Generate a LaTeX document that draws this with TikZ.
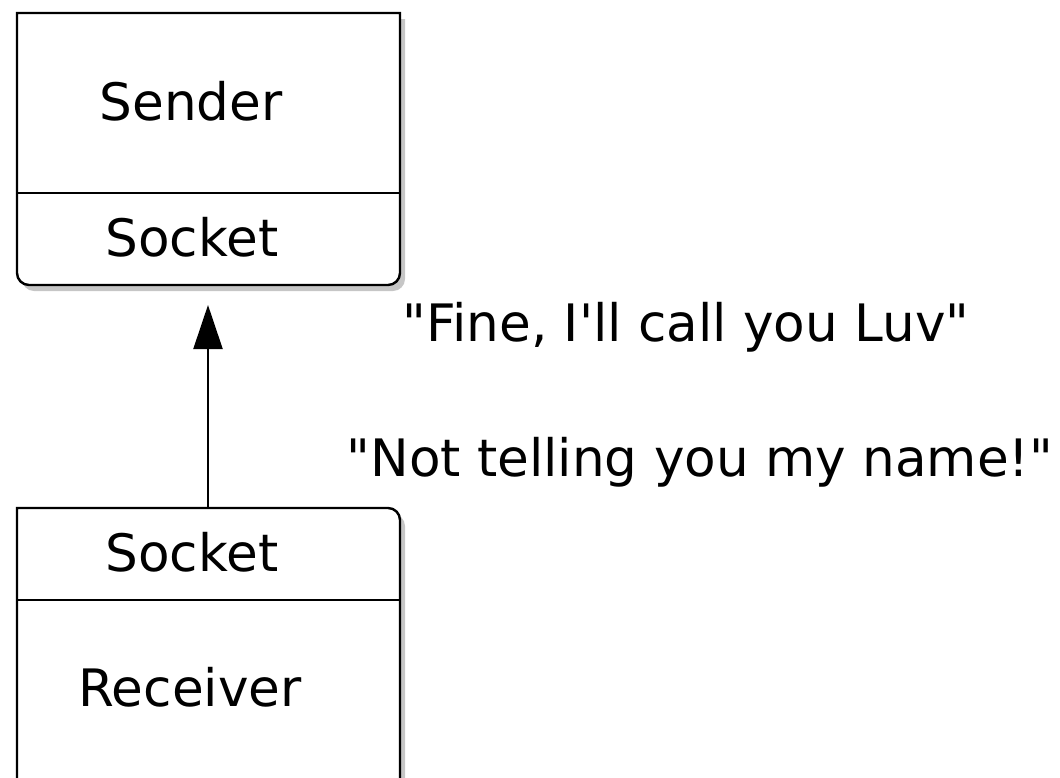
\documentclass[tikz,border=0pt]{standalone}
\usepackage{fontspec}
\setmainfont{DejaVu Sans}
\usetikzlibrary{arrows.meta,shadows}

\tikzset{
  boxline/.style={draw=black, line width=1.2pt, fill=white,
    drop shadow={opacity=0.45, shadow xshift=2.5pt, shadow yshift=-3pt}},
  divline/.style={draw=black, line width=1.1pt},
  label/.style={black, font=\fontsize{25.8}{30}\selectfont},
  msg/.style={-{Triangle[length=22pt,width=14.5pt]}, draw=black, line width=1.1pt}
}

\begin{document}
\begin{tikzpicture}[x=0.5pt, y=-0.5pt]
	\path[use as bounding box] (0,0) rectangle (1060,777);
	% sender box
	\draw[boxline] (17,13) -- (400,13) [rounded corners=6pt] -- (400,285) -- (17,285) [sharp corners] -- cycle;
	\draw[divline] (17,193) -- (400,193);
	\node[label] (sender) at (191,101) {Sender};
	\node[label] (sendsock) at (192,237) {Socket};
	\coordinate (sendbot) at (208,285);
	% receiver box
	\draw[boxline] (17,800) -- (17,508) [rounded corners=6pt] -- (400,508) [sharp corners] -- (400,800);
	\draw[divline] (17,600) -- (400,600);
	\node[label] (recvsock) at (192,552) {Socket};
	\node[label] (receiver) at (190,687) {Receiver};
	\coordinate (recvtop) at (208,508);
	% message
	\draw[msg] (recvtop) -- ([yshift=-10pt]sendbot);
	\node[label] (fine) at (686,327) {\textquotedbl Fine, I\textquotesingle ll call you Luv\textquotedbl};
	\node[label] (notell) at (700,462) {\textquotedbl Not telling you my name!\textquotedbl};
\end{tikzpicture}
\end{document}
